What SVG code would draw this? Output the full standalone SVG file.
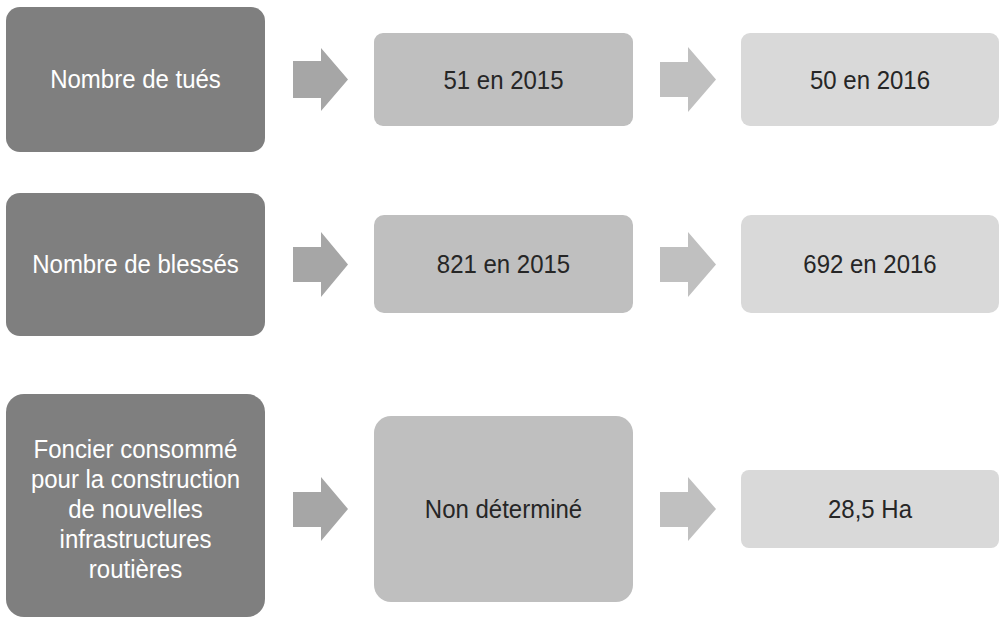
<svg xmlns="http://www.w3.org/2000/svg" width="1004" height="618" viewBox="0 0 1004 618">
<style>
.t{font-family:"Liberation Sans",Arial,sans-serif;font-size:26.5px;text-anchor:middle}
.w{fill:#ffffff}
.k{fill:#262626}
.d{fill:#7f7f7f}
.m{fill:#bfbfbf}
.l{fill:#d9d9d9}
.a1{fill:#a6a6a6}
.a2{fill:#c0c0c0}
</style>
<rect width="1004" height="618" fill="#ffffff"/>
<g id="n1"><rect class="d" x="6" y="7" width="259" height="145" rx="14"/><text class="t w" transform="translate(135.5,88) scale(0.905,1)">Nombre de tués</text></g>
<g id="n2"><rect class="m" x="374" y="33" width="259" height="93" rx="9"/><text class="t k" transform="translate(503.5,88.5) scale(0.905,1)">51 en 2015</text></g>
<g id="n3"><rect class="l" x="741" y="33" width="258" height="93" rx="9"/><text class="t k" transform="translate(870,88.5) scale(0.905,1)">50 en 2016</text></g>
<g id="n4"><rect class="d" x="6" y="193" width="259" height="143" rx="14"/><text class="t w" transform="translate(135.5,273) scale(0.905,1)">Nombre de blessés</text></g>
<g id="n5"><rect class="m" x="374" y="215" width="259" height="98" rx="10"/><text class="t k" transform="translate(503.5,273) scale(0.905,1)">821 en 2015</text></g>
<g id="n6"><rect class="l" x="741" y="215" width="258" height="98" rx="10"/><text class="t k" transform="translate(870,273) scale(0.905,1)">692 en 2016</text></g>
<g id="n7"><rect class="d" x="6" y="394" width="259" height="223" rx="18"/><text class="t w" transform="translate(135.5,458) scale(0.905,1)"><tspan x="0" y="0">Foncier consommé</tspan><tspan x="0" y="30">pour la construction</tspan><tspan x="0" y="60">de nouvelles</tspan><tspan x="0" y="90">infrastructures</tspan><tspan x="0" y="120">routières</tspan></text></g>
<g id="n8"><rect class="m" x="374" y="416" width="259" height="186" rx="17"/><text class="t k" transform="translate(503.5,517.5) scale(0.905,1)">Non déterminé</text></g>
<g id="n9"><rect class="l" x="741" y="470" width="258" height="78" rx="8"/><text class="t k" transform="translate(870,517.5) scale(0.905,1)">28,5 Ha</text></g>
<g id="connectors">
<polygon class="a1" points="293,61 321,61 321,48 348,79.5 321,111 321,98 293,98"/>
<polygon class="a2" points="660,62 688,62 688,47 716,79.5 688,112 688,97 660,97"/>
<polygon class="a1" points="293,247 321,247 321,232 348,264.5 321,297 321,282 293,282"/>
<polygon class="a2" points="660,247 688,247 688,232 716,264.5 688,297 688,282 660,282"/>
<polygon class="a1" points="293,492 321,492 321,477 348,509 321,541 321,527 293,527"/>
<polygon class="a2" points="660,492 688,492 688,477 716,509 688,541 688,527 660,527"/>
</g>
</svg>
